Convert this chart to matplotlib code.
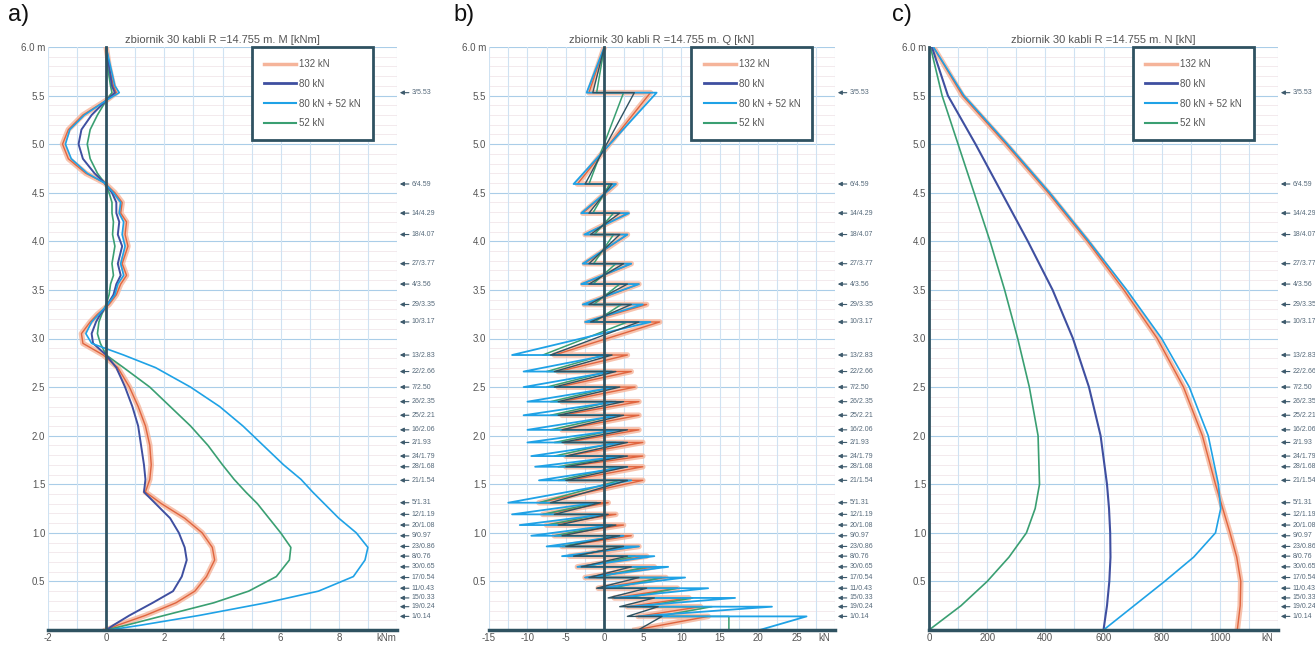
import matplotlib
matplotlib.use('Agg')
import matplotlib.pyplot as plt
from matplotlib.lines import Line2D
import numpy as np

plt.rcParams['font.family'] = ['Liberation Sans', 'DejaVu Sans']

# ---- dane ----
series = ['132 kN', '80 kN', '80 kN + 52 kN', '52 kN']

# a) moment M [kNm] wzdluz wysokosci
h_m = [6.0, 5.8, 5.6, 5.53, 5.45, 5.3, 5.15, 5.0, 4.85, 4.7, 4.6, 4.5, 4.4, 4.29, 4.2, 4.07,
       3.95, 3.77, 3.65, 3.56, 3.45, 3.35, 3.25, 3.17, 3.05, 2.95, 2.83, 2.7, 2.5, 2.3, 2.1,
       1.9, 1.7, 1.55, 1.42, 1.3, 1.15, 1.0, 0.85, 0.72, 0.55, 0.4, 0.28, 0.15, 0.05, 0.0]
m_132 = [0, 0.1, 0.25, 0.35, 0.0, -0.8, -1.3, -1.5, -1.3, -0.7, -0.05, 0.3, 0.55, 0.5, 0.7, 0.65,
         0.75, 0.55, 0.7, 0.5, 0.35, 0.1, -0.3, -0.55, -0.85, -0.8, -0.1, 0.4, 0.8, 1.1, 1.35,
         1.5, 1.55, 1.5, 1.35, 1.9, 2.7, 3.3, 3.65, 3.73, 3.45, 3.05, 2.4, 1.35, 0.4, 0.0]
m_80 = [0, 0.1, 0.2, 0.3, 0.0, -0.5, -0.85, -0.95, -0.8, -0.4, -0.05, 0.2, 0.35, 0.35, 0.45, 0.4,
        0.55, 0.4, 0.5, 0.35, 0.25, 0.05, -0.2, -0.35, -0.5, -0.45, 0.0, 0.35, 0.65, 0.9, 1.1,
        1.2, 1.3, 1.35, 1.3, 1.7, 2.2, 2.5, 2.7, 2.77, 2.6, 2.3, 1.6, 0.8, 0.25, 0.0]
m_8052 = [0, 0.15, 0.3, 0.45, 0.0, -0.75, -1.25, -1.4, -1.2, -0.65, -0.05, 0.25, 0.5, 0.45, 0.6, 0.55,
          0.65, 0.5, 0.6, 0.4, 0.3, 0.05, -0.25, -0.5, -0.7, -0.5, 0.6, 1.7, 2.9, 3.9, 4.7,
          5.4, 6.1, 6.7, 7.1, 7.5, 8.0, 8.6, 9.0, 8.9, 8.5, 7.3, 5.5, 3.2, 1.2, 0.1]
m_52 = [0, 0.05, 0.15, 0.2, 0.0, -0.3, -0.55, -0.65, -0.55, -0.3, -0.05, 0.1, 0.2, 0.2, 0.25, 0.22,
        0.3, 0.2, 0.25, 0.15, 0.1, 0.0, -0.15, -0.25, -0.3, -0.2, 0.0, 0.6, 1.5, 2.2, 2.9,
        3.5, 4.0, 4.4, 4.8, 5.2, 5.6, 6.0, 6.35, 6.3, 5.85, 4.9, 3.7, 2.0, 0.7, 0.0]

# kable: numer / wysokosc
cable_no = [3, 6, 14, 18, 27, 4, 29, 10, 13, 22, 7, 26, 25, 16, 2, 24, 28, 21,
            5, 12, 20, 9, 23, 8, 30, 17, 11, 15, 19, 1]
cable_h = [5.53, 4.59, 4.29, 4.07, 3.77, 3.56, 3.35, 3.17, 2.83, 2.66, 2.50, 2.35, 2.21, 2.06,
           1.93, 1.79, 1.68, 1.54, 1.31, 1.19, 1.08, 0.97, 0.86, 0.76, 0.65, 0.54, 0.43,
           0.33, 0.24, 0.14]

# b) sila poprzeczna Q [kN]: nad kablem / pod kablem
q_up_132 = [-2.0, -3.5, -2.8, -2.5, -2.6, -2.8, -2.6, -2.3, -6.5, -6.0, -6.0, -5.5, -5.5, -5.5, -5.0,
            -5.0, -5.0, -4.5, -8.5, -8.0, -7.5, -6.5, -5.5, -4.5, -3.5, -2.5, -0.8, 1.3, 3.0, 4.4]
q_dn_132 = [6.0, 1.5, 3.0, 3.0, 3.5, 4.5, 5.5, 7.2, 3.0, 3.5, 4.0, 4.5, 4.5, 4.5, 5.0,
            5.0, 5.0, 5.0, 0.5, 1.5, 2.5, 3.5, 4.5, 5.5, 6.5, 8.0, 9.5, 11.0, 12.5, 13.5]
q_end_132 = 4.0
q_up_80 = [-1.5, -2.5, -2.0, -1.8, -2.0, -2.0, -2.0, -1.8, -7.0, -6.5, -6.5, -6.0, -6.0, -5.5, -5.5,
           -5.0, -5.0, -5.0, -7.0, -6.5, -6.0, -5.5, -5.0, -4.0, -3.0, -2.0, -1.0, 0.5, 2.0, 3.0]
q_dn_80 = [3.9, 1.0, 2.0, 2.0, 2.5, 3.0, 3.5, 4.5, 1.0, 1.5, 2.0, 2.5, 2.5, 3.0, 3.0,
           3.0, 3.0, 3.0, -0.5, 0.5, 1.5, 2.0, 2.5, 3.0, 3.5, 4.5, 5.5, 6.5, 7.0, 7.5]
q_end_80 = 4.4
q_up_8052 = [-2.3, -4.0, -3.0, -2.6, -2.8, -3.0, -2.8, -2.5, -12.0, -10.5, -10.5, -10.0, -10.5, -10.0, -10.0,
             -9.5, -9.0, -8.5, -12.5, -12.0, -11.0, -9.5, -7.5, -5.5, -3.5, -2.5, -0.8, 1.3, 3.0, 4.4]
q_dn_8052 = [6.8, 1.5, 3.2, 3.0, 3.5, 4.5, 5.0, 6.0, 0.5, 1.0, 1.5, 1.5, 2.0, 2.0, 2.5,
             2.5, 3.0, 3.5, -1.0, 0.0, 1.0, 2.5, 4.5, 6.5, 8.3, 10.5, 13.5, 17.0, 21.8, 26.3]
q_end_8052 = 20.2
q_up_52 = [-1.0, -2.0, -1.5, -1.3, -1.4, -1.5, -1.4, -1.3, -8.0, -7.5, -7.5, -7.0, -7.0, -7.0, -6.5,
           -6.5, -6.0, -6.0, -8.5, -8.0, -7.5, -6.5, -5.5, -4.0, -2.5, -1.0, 1.0, 3.0, 5.0, 7.0]
q_dn_52 = [2.5, 0.7, 1.2, 1.2, 1.5, 2.0, 2.2, 3.0, 0.0, 0.5, 1.0, 1.0, 1.5, 1.5, 1.5,
           2.0, 2.0, 2.0, -1.0, -0.5, 0.5, 1.5, 2.5, 4.0, 5.5, 7.5, 9.5, 11.5, 14.0, 16.2]
q_end_52 = 16.2

# c) sila obwodowa N [kN]
h_n = [6.0, 5.5, 5.0, 4.5, 4.0, 3.5, 3.0, 2.5, 2.0, 1.5, 1.25, 1.0, 0.75, 0.5, 0.25, 0.0]
n_132 = [15, 115, 265, 410, 545, 670, 785, 875, 940, 985, 1010, 1035, 1058, 1072, 1070, 1060]
n_80 = [10, 65, 160, 250, 340, 425, 495, 550, 590, 612, 619, 623, 624, 620, 612, 600]
n_8052 = [15, 120, 270, 415, 550, 680, 800, 895, 960, 995, 1003, 985, 910, 810, 705, 600]
n_52 = [5, 45, 100, 155, 210, 260, 305, 345, 375, 380, 365, 335, 275, 200, 110, 0]

# ---- styl ----
c132, c132h = '#e0653f', '#f5b49a'
c80 = '#3f4fa0'
c8052 = '#1fa2e6'
c52 = '#3a9f72'
dark = '#2f5261'
W, H = 1315, 646


def zigzag(up, dn, end):
    hh, qq = [6.0], [0.0]
    for h, a, b in zip(cable_h, up, dn):
        hh += [h, h]
        qq += [a, b]
    hh.append(0.0)
    qq.append(end)
    return qq, hh


def setup(ax, xmin, xmax, gstep, xticks, unit, title):
    ax.set_xlim(xmin, xmax)
    ax.set_ylim(0, 6.0)
    for s in ax.spines.values():
        s.set_visible(False)
    for y in np.arange(0.1, 6.0, 0.1):
        ax.axhline(y, color='#f1e6ea', lw=0.6, zorder=0)
    for y in np.arange(0.5, 6.01, 0.5):
        ax.axhline(y, color='#aacde8', lw=0.8, zorder=0)
    for x in np.arange(xmin, xmax + 1e-9, gstep):
        ax.axvline(x, color='#cfe2f2', lw=0.8, zorder=0)
    ax.set_xticks(xticks + [xmax - (xmax - xmin) * 0.03])
    ax.set_xticklabels([f'{t:g}' for t in xticks] + [unit])
    yt = list(np.arange(0.5, 6.01, 0.5))
    ax.set_yticks(yt)
    ax.set_yticklabels([f'{t:.1f}' for t in yt[:-1]] + ['6.0 m'])
    ax.tick_params(length=0, labelsize=7, colors='#555555', pad=2)
    ax.axhline(0, color=dark, lw=2.5, clip_on=False, zorder=5)
    ax.plot([0, 0], [0, 6.0], color=dark, lw=2, clip_on=False, zorder=5)
    ax.set_title(title, fontsize=8, color='#555555', pad=3)
    for n, h in zip(cable_no, cable_h):
        ax.annotate(f'{n}/{h:.2f}', xy=(1.008, h), xytext=(1.042, h),
                    xycoords=('axes fraction', 'data'), textcoords=('axes fraction', 'data'),
                    fontsize=5, color='#55697a', va='center', ha='left', annotation_clip=False,
                    arrowprops=dict(arrowstyle='-|>', color='#3d5a6c', lw=0.8,
                                    shrinkA=0, shrinkB=0, mutation_scale=6))
    handles = [Line2D([], [], color=c132h, lw=2.5), Line2D([], [], color=c80, lw=2),
               Line2D([], [], color=c8052, lw=1.5), Line2D([], [], color=c52, lw=1.5)]
    leg = ax.legend(handles, series, loc='upper left', bbox_to_anchor=(0.585, 1.0),
                    fontsize=7, handlelength=3.3, handletextpad=0.3,
                    labelspacing=1.0, borderpad=1.25, borderaxespad=0,
                    fancybox=False, framealpha=1)
    leg.get_frame().set_edgecolor(dark)
    leg.get_frame().set_linewidth(2)
    for t in leg.get_texts():
        t.set_color('#555555')
    leg.set_zorder(10)


fig = plt.figure(figsize=(W / 100, H / 100), dpi=100)
bot, hgt = 16 / H, 583 / H
ax1 = fig.add_axes([48 / W, bot, 349 / W, hgt])
ax2 = fig.add_axes([489 / W, bot, 346 / W, hgt])
ax3 = fig.add_axes([929 / W, bot, 349 / W, hgt])

# a)
setup(ax1, -2, 10, 1, [-2, 0, 2, 4, 6, 8], 'kNm', 'zbiornik 30 kabli R =14.755 m. M [kNm]')
ax1.plot(m_132, h_m, color=c132h, lw=4, alpha=0.8, zorder=2)
ax1.plot(m_132, h_m, color=c132, lw=1.0, zorder=2)
ax1.plot(m_52, h_m, color=c52, lw=1.2, zorder=3)
ax1.plot(m_80, h_m, color=c80, lw=1.4, zorder=3)
ax1.plot(m_8052, h_m, color=c8052, lw=1.2, zorder=4)

# b)
setup(ax2, -15, 30, 2.5, [-15, -10, -5, 0, 5, 10, 15, 20, 25], 'kN',
      'zbiornik 30 kabli R =14.755 m. Q [kN]')
q, hq = zigzag(q_up_132, q_dn_132, q_end_132)
ax2.plot(q, hq, color=c132h, lw=4, alpha=0.8, zorder=2)
ax2.plot(q, hq, color=c132, lw=1.0, zorder=2)
q, hq = zigzag(q_up_52, q_dn_52, q_end_52)
ax2.plot(q, hq, color=c52, lw=1.1, zorder=3)
q, hq = zigzag(q_up_8052, q_dn_8052, q_end_8052)
ax2.plot(q, hq, color=c8052, lw=1.3, zorder=3)
q, hq = zigzag(q_up_80, q_dn_80, q_end_80)
ax2.plot(q, hq, color=dark, lw=1.0, zorder=4)

# c)
setup(ax3, 0, 1200, 100, [0, 200, 400, 600, 800, 1000], 'kN',
      'zbiornik 30 kabli R =14.755 m. N [kN]')
ax3.plot(n_132, h_n, color=c132h, lw=4, alpha=0.8, zorder=2)
ax3.plot(n_132, h_n, color=c132, lw=1.0, zorder=2)
ax3.plot(n_52, h_n, color=c52, lw=1.2, zorder=3)
ax3.plot(n_80, h_n, color=c80, lw=1.5, zorder=3)
ax3.plot(n_8052, h_n, color=c8052, lw=1.2, zorder=4)

for x, s in [(8, 'a)'), (453, 'b)'), (892, 'c)')]:
    fig.text(x / W, 1 - 4 / H, s, fontsize=17, va='top', ha='left', color='#111111')

fig.savefig('out.png', dpi=100)
